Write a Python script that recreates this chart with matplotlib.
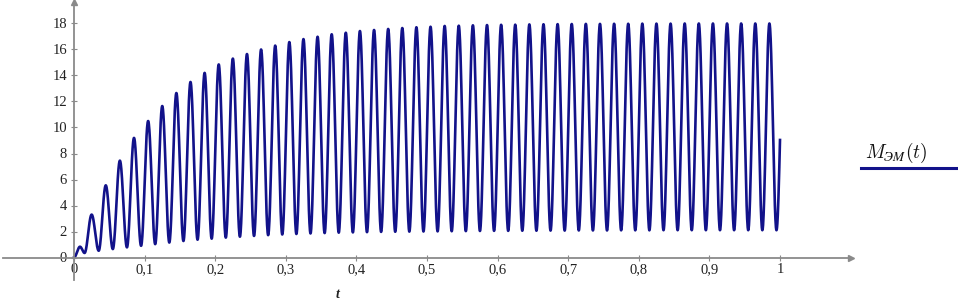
import numpy as np
import matplotlib
matplotlib.use("Agg")
import matplotlib.pyplot as plt
from matplotlib.lines import Line2D

# ---- data ----
peak_t = [0.0085, 0.025, 0.045, 0.065, 0.085, 0.105, 0.125, 0.145, 0.165, 0.185,
          0.205, 0.225, 0.245, 0.265, 0.285, 0.305, 0.325, 0.345, 0.365, 0.385,
          0.405, 0.425, 0.445, 0.465, 0.485, 0.505, 0.525, 0.545, 0.565, 0.585,
          0.605, 0.625, 0.645, 0.665, 0.685, 0.705, 0.725, 0.745, 0.765, 0.785,
          0.805, 0.825, 0.845, 0.865, 0.885, 0.905, 0.925, 0.945, 0.965, 0.985]
peak_v = [0.83, 3.3, 5.55, 7.45, 9.2, 10.5, 11.65, 12.65, 13.5, 14.2,
          14.85, 15.3, 15.65, 16.0, 16.3, 16.57, 16.8, 16.98, 17.17, 17.29,
          17.42, 17.5, 17.58, 17.65, 17.71, 17.75, 17.81, 17.83, 17.86, 17.88,
          17.9, 17.91, 17.93, 17.94, 17.95, 17.96, 17.97, 17.97, 17.98, 17.98,
          17.99, 17.99, 17.99, 18.0, 18.0, 18.0, 18.0, 18.0, 18.0, 18.0]
trough_t = [0.015, 0.035, 0.055, 0.075, 0.095, 0.115, 0.135, 0.155, 0.175, 0.195,
            0.215, 0.235, 0.255, 0.275, 0.295, 0.315, 0.335, 0.355, 0.375, 0.395,
            0.415, 0.435, 0.455, 0.475, 0.495, 0.515, 0.535, 0.555, 0.575, 0.595,
            0.615, 0.635, 0.655, 0.675, 0.695, 0.715, 0.735, 0.755, 0.775, 0.795,
            0.815, 0.835, 0.855, 0.875, 0.895, 0.915, 0.935, 0.955, 0.975, 0.995]
trough_v = [0.35, 0.52, 0.65, 0.78, 0.9, 1.03, 1.15, 1.27, 1.37, 1.45,
            1.53, 1.6, 1.66, 1.72, 1.77, 1.81, 1.85, 1.88, 1.91, 1.93,
            1.95, 1.97, 1.98, 1.99, 2.0, 2.01, 2.02, 2.03, 2.04, 2.05,
            2.05, 2.06, 2.06, 2.07, 2.07, 2.08, 2.08, 2.08, 2.09, 2.09,
            2.09, 2.1, 2.1, 2.1, 2.1, 2.1, 2.1, 2.1, 2.1, 2.1]
start_t, start_v = 0.0, 0.0
end_t, end_v = 1.0, 9.04

x_ticks = [0, 0.1, 0.2, 0.3, 0.4, 0.5, 0.6, 0.7, 0.8, 0.9, 1.0]
x_labels = ["0", "0,1", "0,2", "0,3", "0,4", "0,5", "0,6", "0,7", "0,8", "0,9", "1"]
y_ticks = [0, 2, 4, 6, 8, 10, 12, 14, 16, 18]
y_labels = ["0", "2", "4", "6", "8", "10", "12", "14", "16", "18"]

# ---- smooth curve through the read extrema ----
kt = [start_t]
kv = [start_v]
for a, b, c, d in zip(peak_t, peak_v, trough_t, trough_v):
    kt += [a, c]
    kv += [b, d]
kt.append(end_t)
kv.append(end_v)

T, V = [], []
n = 40
for i in range(len(kt) - 1):
    s = np.linspace(0, 1, n, endpoint=False)
    a, b = kv[i], kv[i + 1]
    if i == len(kt) - 2:
        w = 1 - np.cos(np.pi / 2 * s)
    else:
        w = (1 - np.cos(np.pi * s)) / 2
    T.append(kt[i] + (kt[i + 1] - kt[i]) * s)
    V.append(a + (b - a) * w)
T.append([kt[-1]])
V.append([kv[-1]])
T = np.concatenate(T)
V = np.concatenate(V)

# ---- figure ----
W, H = 958, 301
fig = plt.figure(figsize=(W / 100, H / 100), dpi=100)
x0px, x1px = 3.4, 850.6
ytop, ybot = 2.05, 280.25
ax = fig.add_axes([x0px / W, (H - ybot) / H, (x1px - x0px) / W, (ybot - ytop) / H])
ax.set_xlim(-0.1, 1.1)
ax.set_ylim(-1.75, 19.65)

line_color = "#12128a"
ax.plot(T, V, color=line_color, lw=1.9, solid_joinstyle="round")

axis_color = "#8a8a8a"
for side in ("top", "right"):
    ax.spines[side].set_visible(False)
ax.spines["left"].set_position(("data", 0))
ax.spines["bottom"].set_position(("data", 0))
for side in ("left", "bottom"):
    ax.spines[side].set_color(axis_color)
    ax.spines[side].set_linewidth(1.3)

ax.plot(1, 0, ">", color=axis_color, ms=4, transform=ax.get_yaxis_transform(), clip_on=False)
ax.plot(0, 1, "^", color=axis_color, ms=4, transform=ax.get_xaxis_transform(), clip_on=False)

serif = ["Liberation Serif", "DejaVu Serif"]
ax.set_xticks(x_ticks)
ax.set_xticklabels(x_labels, family=serif, fontsize=10.5)
ax.set_yticks(y_ticks)
ax.set_yticklabels(y_labels, family=serif, fontsize=10.5)
ax.tick_params(axis="both", direction="inout", length=4, width=0.8, color=axis_color,
               labelcolor="#222222")
ax.tick_params(axis="x", pad=2)
ax.tick_params(axis="y", pad=3)

fig.text(338 / W, 1 - 294 / H, "t", family=serif, style="italic", weight="bold",
         fontsize=10, ha="center", va="center", color="#222222")

plt.rcParams["mathtext.fontset"] = "cm"
fig.text(865 / W, 1 - 158 / H, r"$M_{ЭМ}(t)$", fontsize=14, ha="left", va="baseline",
         color="#111111")
fig.add_artist(Line2D([861 / W, 956 / W], [1 - 168 / H, 1 - 168 / H],
                      color=line_color, lw=2.2, transform=fig.transFigure))

fig.savefig("out.png", dpi=100)
